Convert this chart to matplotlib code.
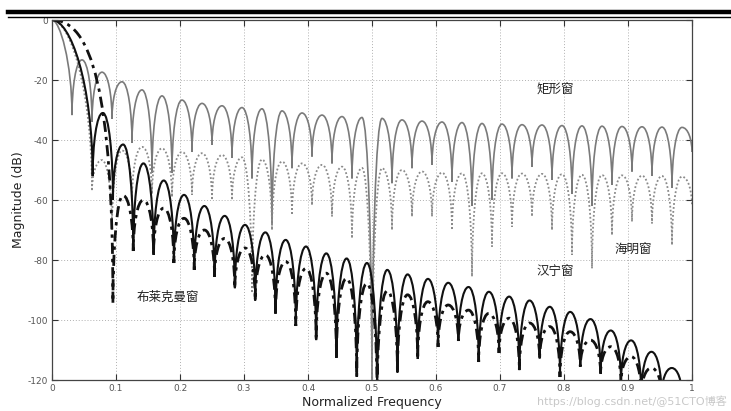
import numpy as np
import matplotlib
matplotlib.use('Agg')
import matplotlib.pyplot as plt
from matplotlib.path import Path
from matplotlib.patches import PathPatch
from matplotlib.lines import Line2D

plt.rcParams['font.family'] = ['DejaVu Sans', 'Noto Sans CJK SC']

# ---------------- data ----------------
x_ticks = [0, 0.1, 0.2, 0.3, 0.4, 0.5, 0.6, 0.7, 0.8, 0.9, 1.0]
x_tick_labels = ['0', '0.1', '0.2', '0.3', '0.4', '0.5', '0.6', '0.7', '0.8', '0.9', '1']
y_ticks = [-120, -100, -80, -60, -40, -20, 0]
y_tick_labels = ['-120', '-100', '-80', '-60', '-40', '-20', '0']

# Rectangular window (grey solid)
rect_first_null = 0.03125
rect_null_step = 0.03125
rect_null_db = [-31.7, -34, -33, -41, -51, -51, -44, -41.6, -46, -52.8, -68, -49.4,
                -45.5, -47.8, -52.8, -125, -54.4, -49.4, -48.3, -53.9, -62, -60,
                -52.8, -49, -53.3, -58, -62, -55, -50.5, -52, -56, -44]
rect_peak_db = [-13.3, -17.4, -20.6, -23.3, -25.3, -26.7, -27.8, -28.6, -29.2, -29.6,
                -30.3, -31.0, -31.7, -32.2, -32.5, -32.8, -33.3, -33.7, -34.0, -34.2,
                -34.5, -34.7, -34.9, -35.0, -35.2, -35.3, -35.4, -35.5, -35.6, -35.7, -35.8]

# Hamming window (grey dotted)
hamm_first_null = 0.0625
hamm_null_step = 0.03125
hamm_null_db = [-57, -70, -60, -58, -59, -58.3, -60, -60, -91, -70, -65, -61.7,
                -65.5, -72.8, -125, -70, -65.5, -65.5, -70, -85.5, -75.5, -68.9,
                -65.5, -70, -78.3, -82.8, -71.7, -67.2, -67.8, -75, -62]
hamm_peak_db = [-46.7, -43.5, -42.3, -42.8, -44, -44.4, -45, -45.8, -46.5, -47.2,
                -47.8, -48.3, -48.9, -49.3, -49.4, -50, -50.5, -50.9, -51.1, -51.1,
                -51.1, -51.2, -51.3, -51.4, -51.6, -51.7, -51.8, -51.9, -52, -52.2]

# Hanning window (black solid)
hann_first_null = 0.0635
hann_null_step = 0.03175
hann_null_db = [-52, -60, -77, -78.3, -81, -83, -85.5, -89.4, -93.5, -97.8, -102,
                -106.7, -112.5, -119, -125, -117.5, -113, -109, -107, -114, -111,
                -116.7, -112.8, -119, -115.5, -118, -121, -125, -125, -125]
hann_peak_db = [-31, -41.5, -47.8, -53.5, -58.3, -62, -65.3, -68.3, -70.8, -73.3,
                -75.5, -77.8, -79.5, -81, -83.3, -84.8, -86.3, -87.6, -89, -90.6,
                -92.2, -93.5, -95.6, -97.3, -99.7, -103.5, -106.8, -110.6, -116]
hann_end_db = -125

# Blackman window (black dash-dot)
black_first_null = 0.0952
black_null_step = 0.03175
black_null_db = [-94.4, -77, -78, -81, -83.3, -85.6, -89.4, -93.5, -97.8, -102,
                 -106.7, -112.5, -119, -125, -117.5, -113, -109, -107, -114, -111,
                 -116.7, -112.8, -119, -115.5, -118, -121, -125, -125, -125]
black_peak_db = [-58.5, -60, -62.7, -66.1, -70, -72.8, -76, -78.3, -80.5, -82.8,
                 -84.4, -86.1, -87.8, -90.3, -91.6, -93.9, -95, -96.7, -97.8, -99.4,
                 -101, -102.2, -103.9, -106.7, -108.9, -112.2, -116, -125]
black_end_db = -125

labels = ['矩形窗', '海明窗', '汉宁窗', '布莱克曼窗']
label_pos = [(0.786, -23.3), (0.908, -76.7), (0.786, -84.0), (0.181, -92.5)]


def lobe_path(first_null, step, null_db, peak_db, main_shape, end_db=None):
    xs = first_null + step * np.arange(len(null_db))
    M, C, L = Path.MOVETO, Path.CURVE4, Path.LINETO
    verts = [(0.0, 0.0)]
    codes = [M]
    a, b = main_shape
    xn, yn = xs[0], null_db[0]
    verts += [(a * xn, 0.0), (xn, b * yn), (xn, yn)]
    codes += [C] * 3
    for i, p in enumerate(peak_db):
        xa, da = xs[i], null_db[i]
        xb, db = xs[i + 1], null_db[i + 1]
        xm = 0.5 * (xa + xb)
        h = xm - xa
        verts += [(xa, 0.5 * (da + p)), (xa + 0.4 * h, p), (xm, p),
                  (xb - 0.4 * h, p), (xb, 0.5 * (db + p)), (xb, db)]
        codes += [C] * 6
    if end_db is not None:
        verts.append((1.0, end_db))
        codes.append(L)
    return Path(verts, codes)


W, H = 731, 411
fig = plt.figure(figsize=(W / 100, H / 100), dpi=100)
ax = fig.add_axes([52 / W, 31 / H, 640 / W, 360 / H])

ax.set_xlim(0, 1)
ax.set_ylim(-120, 0)

# grid
ax.grid(True, color='#b0b0b0', linestyle=(0, (1, 2)), linewidth=0.7)
ax.set_axisbelow(True)

curves = [
    (lobe_path(rect_first_null, rect_null_step, rect_null_db, rect_peak_db, (0.4, 0.45)),
     dict(edgecolor='#7a7a7a', linewidth=1.2, linestyle='-')),
    (lobe_path(hamm_first_null, hamm_null_step, hamm_null_db, hamm_peak_db, (0.45, 0.4)),
     dict(edgecolor='#8a8a8a', linewidth=1.3, linestyle=(0, (1, 1.2)))),
    (lobe_path(hann_first_null, hann_null_step, hann_null_db, hann_peak_db, (0.45, 0.4), hann_end_db),
     dict(edgecolor='#111111', linewidth=1.5, linestyle='-')),
    (lobe_path(black_first_null, black_null_step, black_null_db, black_peak_db, (0.65, 0.25), black_end_db),
     dict(edgecolor='#111111', linewidth=2.0, linestyle=(0, (4, 1.8, 1.2, 1.8)))),
]
for path, style in curves:
    ax.add_patch(PathPatch(path, fill=False, **style))

ax.set_xticks(x_ticks)
ax.set_xticklabels(x_tick_labels)
ax.set_yticks(y_ticks)
ax.set_yticklabels(y_tick_labels)
ax.tick_params(direction='in', length=4, width=0.8, top=True, right=True,
               labelsize=6.5, labelcolor='#555555', color='#333333', pad=3)
for s in ax.spines.values():
    s.set_color('#444444')
    s.set_linewidth(0.9)

ax.set_xlabel('Normalized Frequency', fontsize=9, color='#222222', labelpad=2)
ax.set_ylabel('Magnitude (dB)', fontsize=9, color='#222222', labelpad=2)

for txt, (xx, yy) in zip(labels, label_pos):
    ax.text(xx, yy, txt, fontsize=9, color='#222222', ha='center', va='center',
            family=['Noto Sans CJK SC', 'DejaVu Sans'])

# page rule at the top
fig.add_artist(Line2D([8 / W, 1.0], [1 - 12.5 / H, 1 - 12.5 / H], color='black', linewidth=3.2))
fig.add_artist(Line2D([8 / W, 1.0], [1 - 16.8 / H, 1 - 16.8 / H], color='black', linewidth=1.0))

# watermark
fig.text(727 / W, 1 - 401 / H, 'https://blog.csdn.net/@51CTO博客', fontsize=8,
         color='#c8c8c8', ha='right', va='center', family=['DejaVu Sans', 'Noto Sans CJK SC'])

fig.savefig('out.png', dpi=100)
